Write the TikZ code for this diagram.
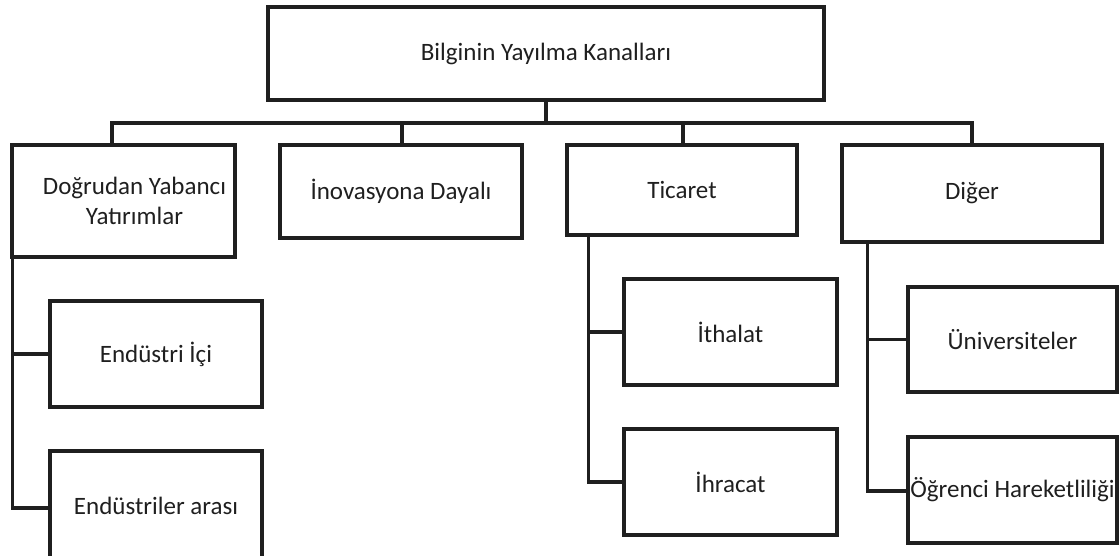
\documentclass[tikz,border=0pt]{standalone}
\usepackage{fontspec}
\setmainfont{Carlito}

\begin{document}
\begin{tikzpicture}[x=1pt,y=-1pt,line width=3.5pt,draw=black!88,
  main node/.style={rectangle,draw=black!88,line width=3.5pt,inner sep=0pt,
    align=center,text=black!88,font=\fontsize{25}{30}\selectfont}]

  \useasboundingbox (0,0) rectangle (1119,555);

  \node[main node,minimum width=556pt,minimum height=93pt] (top) at (546,53.5) {Bilginin Yayılma Kanalları};

  \node[main node,minimum width=223pt,minimum height=112pt] (dyy) at (123.5,201) {\hspace*{22pt}Doğrudan Yabancı\\\hspace*{22pt}Yatırımlar};
  \node[main node,minimum width=242pt,minimum height=93pt] (inov) at (401,191.5) {İnovasyona Dayalı};
  \node[main node,minimum width=230pt,minimum height=90pt] (tic) at (682,190) {Ticaret};
  \node[main node,minimum width=260pt,minimum height=97pt] (dig) at (972,193.5) {Diğer};

  \node[main node,minimum width=212pt,minimum height=106pt] (ici) at (156,354) {Endüstri İçi};
  \node[main node,minimum width=212pt,minimum height=110pt] (arasi) at (156,506) {Endüstriler arası};
  \node[main node,minimum width=213pt,minimum height=106pt] (ith) at (730.5,332) {İthalat};
  \node[main node,minimum width=213pt,minimum height=106pt] (ihr) at (730.5,482) {İhracat};
  \node[main node,minimum width=209pt,minimum height=105pt] (univ) at (1012.5,339.5) {Üniversiteler};
  \node[main node,minimum width=209pt,minimum height=106pt] (ogr) at (1012.5,490) {Öğrenci Hareketliliği};

  \coordinate (bus) at (546,123);

  % top level
  \draw (top.south) -- (bus);
  \draw (bus) -| ([xshift=-11.5pt]dyy.north);
  \draw (bus) -| ([xshift=1pt]inov.north);
  \draw (bus) -| ([xshift=1pt]tic.north);
  \draw (bus) -| (dig.north);

  % sub levels
  \draw ([xshift=2pt]dyy.south west) |- (ici.west);
  \draw ([xshift=2pt]dyy.south west) |- ([yshift=-2pt]arasi.west);
  \draw ([xshift=23pt]tic.south west) |- (ith.west);
  \draw ([xshift=23pt]tic.south west) |- (ihr.west);
  \draw ([xshift=27pt]dig.south west) |- (univ.west);
  \draw ([xshift=27pt]dig.south west) |- ([yshift=-1pt]ogr.west);
\end{tikzpicture}
\end{document}
